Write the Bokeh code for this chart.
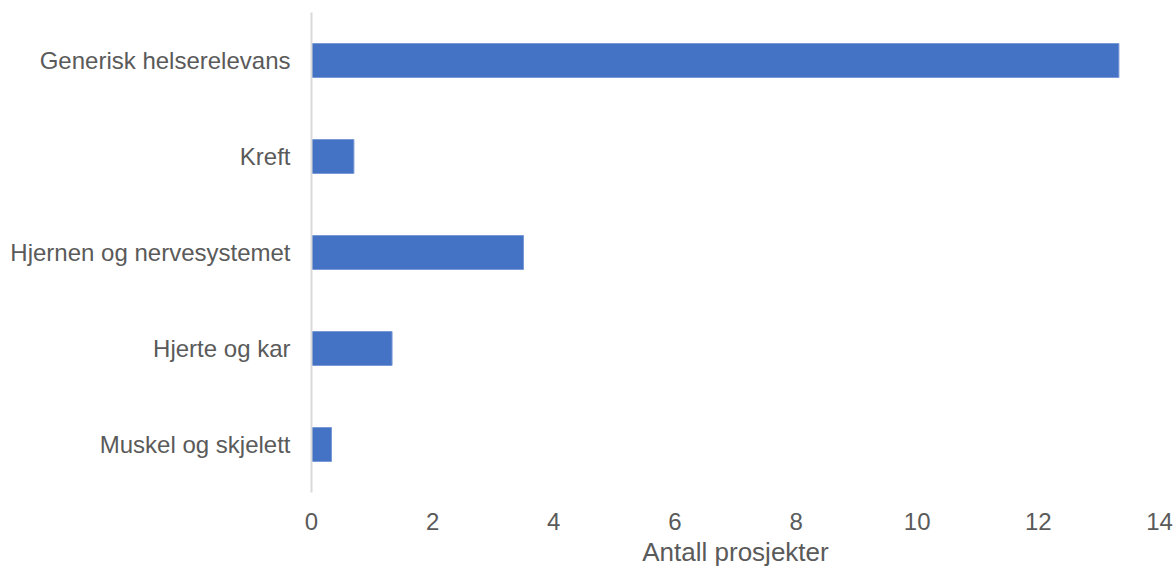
from bokeh.plotting import figure
from bokeh.models import Range1d, FactorRange, FixedTicker, ColumnDataSource
from bokeh.embed import file_html
from bokeh.resources import INLINE

# Number of projects per health area
categories = [
    "Generisk helserelevans",
    "Kreft",
    "Hjernen og nervesystemet",
    "Hjerte og kar",
    "Muskel og skjelett",
]
projects = [13.33, 0.70, 3.50, 1.33, 0.33]
x_ticks = [0, 2, 4, 6, 8, 10, 12, 14]

# First factor sits at the bottom, so list them bottom-up
factors = list(reversed(categories))

source = ColumnDataSource(dict(category=categories, value=projects))

p = figure(
    width=1175,
    height=571,
    y_range=FactorRange(factors=factors, range_padding=0),
    x_range=Range1d(0, 14),
    output_backend="svg",
    toolbar_location=None,
    min_border_left=311,
    min_border_right=16,
    min_border_top=12,
    min_border_bottom=79,
)

p.hbar(
    y="category",
    right="value",
    left=0,
    height=0.354,
    source=source,
    fill_color="#4472C4",
    line_color="#7a9ad6",
    line_width=1,
)

FONT = "Liberation Sans"
TEXT = "#5a5a5a"

p.outline_line_color = None
p.xgrid.grid_line_color = None
p.ygrid.grid_line_color = None
p.background_fill_color = "white"
p.border_fill_color = "white"

# Value axis along the bottom
p.xaxis.ticker = FixedTicker(ticks=x_ticks)
p.xaxis.axis_line_color = None
p.xaxis.major_tick_line_color = None
p.xaxis.minor_tick_line_color = None
p.xaxis.major_label_text_font = FONT
p.xaxis.major_label_text_font_size = "24px"
p.xaxis.major_label_text_color = TEXT
p.xaxis.major_label_standoff = 14
p.xaxis.axis_label = "Antall prosjekter"
p.xaxis.axis_label_text_font = FONT
p.xaxis.axis_label_text_font_size = "26px"
p.xaxis.axis_label_text_font_style = "normal"
p.xaxis.axis_label_text_color = TEXT
p.xaxis.axis_label_standoff = 4

# Category axis on the left
p.yaxis.axis_line_color = "#d9d9d9"
p.yaxis.axis_line_width = 2
p.yaxis.major_tick_line_color = None
p.yaxis.minor_tick_line_color = None
p.yaxis.major_label_text_font = FONT
p.yaxis.major_label_text_font_size = "24px"
p.yaxis.major_label_text_color = TEXT
p.yaxis.major_label_standoff = 15

open("out.html", "w").write(file_html(p, INLINE))
